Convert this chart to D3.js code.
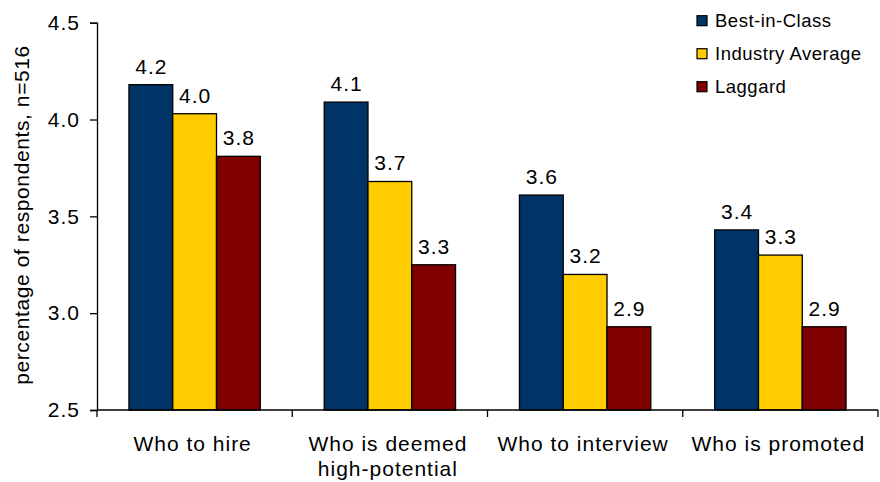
<!DOCTYPE html>
<html>
<head>
<meta charset="utf-8">
<script src="https://cdn.jsdelivr.net/npm/d3@7"></script>
<style>
  html, body { margin: 0; padding: 0; background: #fff; }
  svg { display: block; font-family: Arial, "Liberation Sans", sans-serif; }
</style>
</head>
<body>
<svg id="chart" width="880" height="482"></svg>
<script>
const categories = [["Who to hire"], ["Who is deemed", "high-potential"], ["Who to interview"], ["Who is promoted"]];
const seriesNames = ["Best-in-Class", "Industry Average", "Laggard"];
const bestInClass = [4.18, 4.09, 3.61, 3.43];
const industryAverage = [4.03, 3.68, 3.20, 3.30];
const laggard = [3.81, 3.25, 2.93, 2.93];
const valueLabels = [["4.2", "4.0", "3.8"], ["4.1", "3.7", "3.3"], ["3.6", "3.2", "2.9"], ["3.4", "3.3", "2.9"]];
const yTicks = [2.5, 3.0, 3.5, 4.0, 4.5];
const colors = ["#003366", "#FFCC00", "#800000"];
const yTitle = "percentage of respondents,  n=516";

(function () {
const series = [bestInClass, industryAverage, laggard];
const svg = d3.select("#chart");
const plotLeft = 97, plotRight = 878, plotTop = 22.7, plotBottom = 410;
const x0 = d3.scaleBand().domain(d3.range(categories.length)).range([plotLeft, plotRight]).paddingInner(0).paddingOuter(0);
const x1 = d3.scaleBand().domain(d3.range(seriesNames.length)).range([0, x0.bandwidth()]).paddingInner(0).paddingOuter(0.73);
const y = d3.scaleLinear().domain([2.5, 4.5]).range([plotBottom, plotTop]);

// bars
const g = svg.append("g");
categories.forEach((c, ci) => {
  series.forEach((s, si) => {
    g.append("rect")
      .attr("x", x0(ci) + x1(si))
      .attr("y", y(s[ci]))
      .attr("width", x1.bandwidth())
      .attr("height", y(2.5) - y(s[ci]))
      .attr("fill", colors[si])
      .attr("stroke", "#000")
      .attr("stroke-width", 1.3);
    g.append("text")
      .attr("x", x0(ci) + x1(si) + x1.bandwidth() / 2 + 0.5)
      .attr("y", y(s[ci]) - 11)
      .attr("text-anchor", "middle")
      .attr("font-size", 21)
      .attr("letter-spacing", 1)
      .attr("fill", "#000")
      .text(valueLabels[ci][si]);
  });
});

// y axis
const yAxis = svg.append("g")
  .attr("transform", `translate(${plotLeft},0)`)
  .call(d3.axisLeft(y).tickValues(yTicks).tickFormat(d3.format(".1f")).tickSize(7).tickPadding(10));
yAxis.select(".domain").attr("stroke", "#000").attr("stroke-width", 1.3);
yAxis.selectAll(".tick line").attr("stroke", "#000").attr("stroke-width", 1.3);
yAxis.selectAll(".tick text").attr("font-size", 21).attr("letter-spacing", 1)
  .attr("font-family", "Arial, 'Liberation Sans', sans-serif").attr("fill", "#000");

// x axis
const xAxisG = svg.append("g");
xAxisG.append("line").attr("x1", plotLeft).attr("x2", plotRight).attr("y1", y(2.5)).attr("y2", y(2.5)).attr("stroke", "#000").attr("stroke-width", 1.3);
const bounds = d3.range(categories.length + 1).map(i => i < categories.length ? x0(i) : x0(i - 1) + x0.bandwidth());
xAxisG.selectAll("line.tk").data(bounds).enter().append("line")
  .attr("class", "tk")
  .attr("x1", d => d).attr("x2", d => d)
  .attr("y1", y(2.5)).attr("y2", y(2.5) + 7)
  .attr("stroke", "#000").attr("stroke-width", 1.3);
categories.forEach((c, ci) => {
  const cx = x0(ci) + x0.bandwidth() / 2 - 2;
  const t = xAxisG.append("text")
    .attr("x", cx)
    .attr("y", 451)
    .attr("text-anchor", "middle")
    .attr("font-size", 21)
    .attr("letter-spacing", 1)
    .attr("fill", "#000");
  c.forEach((line, li) => {
    t.append("tspan").attr("x", cx).attr("dy", li === 0 ? 0 : 25).text(line);
  });
});

// y title
svg.append("text")
  .attr("transform", `translate(29,215) rotate(-90)`)
  .attr("text-anchor", "middle")
  .attr("font-size", 21)
  .attr("letter-spacing", 0.6)
  .attr("fill", "#000")
  .text(yTitle);

// legend
const leg = svg.append("g");
seriesNames.forEach((n, i) => {
  const cy = 20.7 + i * 33;
  leg.append("rect").attr("x", 697).attr("y", cy - 5).attr("width", 10).attr("height", 10)
    .attr("fill", colors[i]).attr("stroke", "#000").attr("stroke-width", 1.2);
  leg.append("text").attr("x", 715).attr("y", cy + 6.5).attr("font-size", 18.5)
    .attr("letter-spacing", 0.5).attr("fill", "#000").text(n);
});
})();
</script>
</body>
</html>
